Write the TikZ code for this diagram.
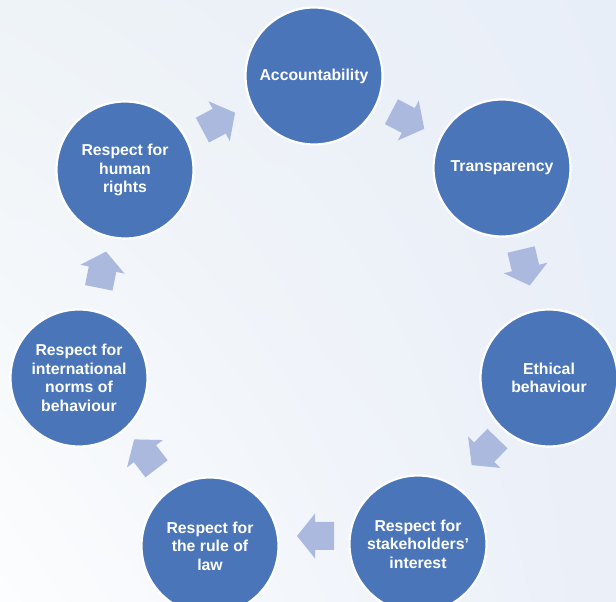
\documentclass[tikz,border=0pt]{standalone}
\usepackage{fontspec}
\setmainfont{Liberation Sans}
\usetikzlibrary{shadings}
\definecolor{discblue}{RGB}{74,118,185}
\definecolor{arrowblue}{RGB}{170,185,221}
\definecolor{bgtl}{RGB}{238,243,247}
\definecolor{bgtr}{RGB}{232,238,248}
\definecolor{bgbl}{RGB}{252,253,254}
\definecolor{bgbr}{RGB}{234,239,248}
\begin{document}
\begin{tikzpicture}[x=1pt,y=1pt,
  disc/.style={circle, fill=discblue, draw=white, line width=2.2pt,
    minimum size=137pt, inner sep=0pt, text=white, align=center,
    font=\bfseries\fontsize{15.8}{18.5}\selectfont},
  blockarrow/.pic={\fill[arrowblue] (-19,14) -- (0,14) -- (0,22.5) -- (18,0)
    -- (0,-22.5) -- (0,-14) -- (-19,-14) -- cycle;}]
\useasboundingbox (0,0) rectangle (616,602);
\clip (0,0) rectangle (616,602);
% soft background wash
\shade[upper left=bgtl, upper right=bgtr, lower left=bgbl, lower right=bgbr]
  (0,0) rectangle (616,602);

% the seven principles
\node[disc] (acc) at (314,526) {Accountability};
\node[disc] (tra) at (502,434) {Transparency};
\node[disc] (eth) at (549,224) {Ethical\\behaviour};
\node[disc] (sta) at (418,58) {Respect for\\stakeholders’\\interest};
\node[disc] (law) at (210,56) {Respect for\\the rule of\\law};
\node[disc] (int) at (79,224) {Respect for\\international\\norms of\\behaviour};
\node[disc] (hum) at (125,432) {Respect for\\human\\rights};

% block arrows running clockwise round the cycle
\pic[rotate=28] at (219.2,480.8) {blockarrow};
\pic[rotate=-27.6] at (408.3,481.5) {blockarrow};
\pic[rotate=-76.5] at (525.5,334) {blockarrow};
\pic[rotate=-134.2] at (484.2,149.8) {blockarrow};
\pic[rotate=180] at (315,66) {blockarrow};
\pic[rotate=127.3] at (145,148.3) {blockarrow};
\pic[rotate=78.7] at (102.5,332.8) {blockarrow};
\end{tikzpicture}
\end{document}
